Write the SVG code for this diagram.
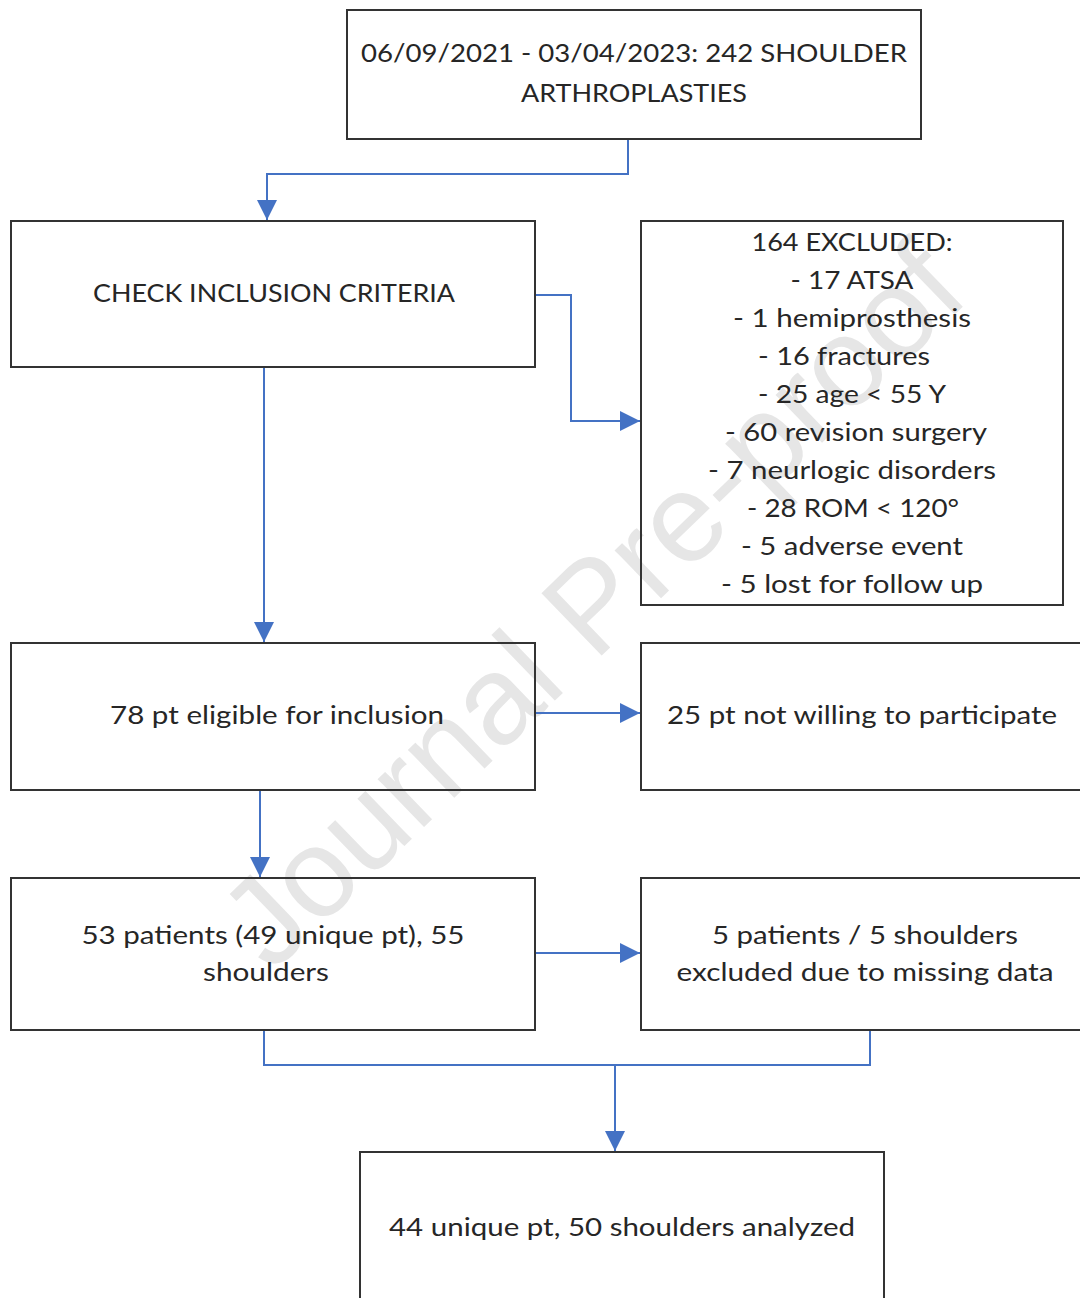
<svg xmlns="http://www.w3.org/2000/svg" width="1080" height="1298" viewBox="0 0 1080 1298">
<style>
.box{fill:none;stroke:#333;stroke-width:2}
.t{font-family:Lato,"Open Sans","Liberation Sans",sans-serif;font-size:25px;fill:#262626;text-anchor:middle}
.c{fill:none;stroke:#4472C4;stroke-width:2}
.wm{font-family:"Liberation Sans",Arial,sans-serif;font-size:126px;fill:#e6e6e6;text-anchor:middle}
</style>
<defs>
<marker id="ahb" viewBox="0 0 10 10" refX="10" refY="5" markerWidth="20" markerHeight="20" markerUnits="userSpaceOnUse" orient="auto"><path d="M0,0 L10,5 L0,10 Z" fill="#4472C4"/></marker>
</defs>
<rect width="1080" height="1298" fill="#fff"/>
<text class="wm" x="592" y="648" transform="rotate(-44 592 605)">Journal Pre-proof</text>
<g id="connectors">
<path class="c" d="M628,139 V174 H267 V220" marker-end="url(#ahb)"/>
<path class="c" d="M535,295 H571 V421 H640" marker-end="url(#ahb)"/>
<path class="c" d="M264,367 V642" marker-end="url(#ahb)"/>
<path class="c" d="M535,713 H640" marker-end="url(#ahb)"/>
<path class="c" d="M260,790 V877" marker-end="url(#ahb)"/>
<path class="c" d="M535,953 H640" marker-end="url(#ahb)"/>
<path class="c" d="M264,1030 V1065 H870 V1030"/>
<path class="c" d="M615,1065 V1151" marker-end="url(#ahb)"/>
</g>
<g id="n1">
<rect class="box" x="347" y="10" width="574" height="129"/>
<text class="t" x="634" y="62" textLength="546" lengthAdjust="spacingAndGlyphs">06/09/2021 - 03/04/2023: 242 SHOULDER</text>
<text class="t" x="634" y="102" textLength="226" lengthAdjust="spacingAndGlyphs">ARTHROPLASTIES</text>
</g>
<g id="n2">
<rect class="box" x="11" y="221" width="524" height="146"/>
<text class="t" x="274" y="302" textLength="362" lengthAdjust="spacingAndGlyphs">CHECK INCLUSION CRITERIA</text>
</g>
<g id="n3">
<rect class="box" x="641" y="221" width="422" height="384"/>
<text class="t" x="852" y="251" textLength="201" lengthAdjust="spacingAndGlyphs">164 EXCLUDED:</text>
<text class="t" x="852" y="289" textLength="123" lengthAdjust="spacingAndGlyphs">- 17 ATSA</text>
<text class="t" x="852" y="327" textLength="238" lengthAdjust="spacingAndGlyphs">- 1 hemiprosthesis</text>
<text class="t" x="844" y="365" textLength="172" lengthAdjust="spacingAndGlyphs">- 16 fractures</text>
<text class="t" x="852" y="403" textLength="188" lengthAdjust="spacingAndGlyphs">- 25 age &lt; 55 Y</text>
<text class="t" x="856" y="441" textLength="262" lengthAdjust="spacingAndGlyphs">- 60 revision surgery</text>
<text class="t" x="852" y="479" textLength="288" lengthAdjust="spacingAndGlyphs">- 7 neurlogic disorders</text>
<text class="t" x="853" y="517" textLength="212" lengthAdjust="spacingAndGlyphs">- 28 ROM &lt; 120°</text>
<text class="t" x="852" y="555" textLength="222" lengthAdjust="spacingAndGlyphs">- 5 adverse event</text>
<text class="t" x="852" y="593" textLength="262" lengthAdjust="spacingAndGlyphs">- 5 lost for follow up</text>
</g>
<g id="n4">
<rect class="box" x="11" y="643" width="524" height="147"/>
<text class="t" x="277" y="724" textLength="334" lengthAdjust="spacingAndGlyphs">78 pt eligible for inclusion</text>
</g>
<g id="n5">
<rect class="box" x="641" y="643" width="460" height="147"/>
<text class="t" x="862" y="724" textLength="390" lengthAdjust="spacingAndGlyphs">25 pt not willing to participate</text>
</g>
<g id="n6">
<rect class="box" x="11" y="878" width="524" height="152"/>
<text class="t" x="273" y="944" textLength="383" lengthAdjust="spacingAndGlyphs">53 patients (49 unique pt), 55</text>
<text class="t" x="266" y="981" textLength="126" lengthAdjust="spacingAndGlyphs">shoulders</text>
</g>
<g id="n7">
<rect class="box" x="641" y="878" width="460" height="152"/>
<text class="t" x="865" y="944" textLength="306" lengthAdjust="spacingAndGlyphs">5 patients / 5 shoulders</text>
<text class="t" x="865" y="981" textLength="377" lengthAdjust="spacingAndGlyphs">excluded due to missing data</text>
</g>
<g id="n8">
<rect class="box" x="360" y="1152" width="524" height="170"/>
<text class="t" x="622" y="1236" textLength="466" lengthAdjust="spacingAndGlyphs">44 unique pt, 50 shoulders analyzed</text>
</g>
</svg>
